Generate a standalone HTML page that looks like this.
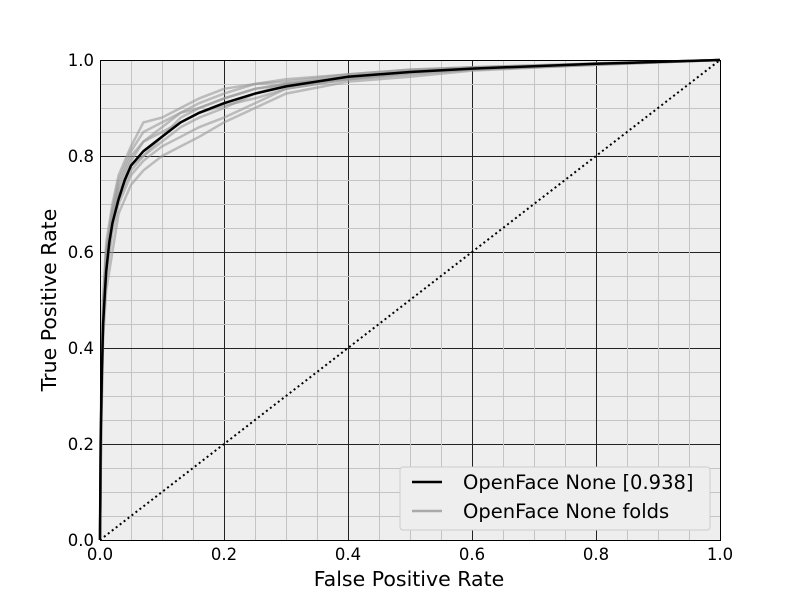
<!DOCTYPE html>
<html><head><meta charset="utf-8"><style>
body{margin:0;background:#fff}
svg{display:block;font-family:"DejaVu Sans","Liberation Sans",sans-serif}
</style></head><body>
<svg id="chart" width="800" height="600"></svg>
<script>
const fprMain=[0,0.001,0.003,0.005,0.008,0.01,0.015,0.02,0.03,0.04,0.05,0.07,0.1,0.13,0.16,0.2,0.25,0.3,0.4,0.5,0.6,0.7,0.8,0.9,1];
const tprMain=[0,0.2,0.35,0.45,0.52,0.56,0.62,0.66,0.71,0.75,0.78,0.81,0.84,0.87,0.89,0.91,0.93,0.945,0.965,0.975,0.982,0.987,0.992,0.996,1];
const foldFpr=[0,0.002,0.005,0.01,0.02,0.03,0.05,0.07,0.1,0.13,0.16,0.2,0.25,0.3,0.4,0.5,0.6,0.8,1];
const foldTprs=[
[0,0.3,0.5,0.62,0.7,0.76,0.82,0.87,0.88,0.9,0.92,0.94,0.95,0.96,0.97,0.98,0.985,0.993,1],
[0,0.25,0.45,0.55,0.64,0.7,0.76,0.79,0.82,0.84,0.86,0.88,0.91,0.94,0.96,0.97,0.98,0.99,1],
[0,0.28,0.48,0.6,0.68,0.73,0.79,0.83,0.86,0.89,0.91,0.93,0.95,0.955,0.97,0.98,0.985,0.992,1],
[0,0.22,0.42,0.52,0.6,0.68,0.74,0.77,0.8,0.82,0.84,0.87,0.9,0.93,0.955,0.965,0.978,0.99,1],
[0,0.3,0.5,0.6,0.66,0.72,0.78,0.8,0.84,0.88,0.9,0.92,0.94,0.95,0.96,0.975,0.98,0.99,1],
[0,0.27,0.46,0.57,0.67,0.74,0.8,0.83,0.85,0.87,0.89,0.905,0.92,0.94,0.96,0.972,0.982,0.991,1],
[0,0.24,0.44,0.56,0.66,0.71,0.77,0.8,0.83,0.86,0.88,0.9,0.93,0.95,0.965,0.977,0.984,0.992,1],
[0,0.26,0.47,0.6,0.69,0.75,0.81,0.85,0.87,0.89,0.9,0.92,0.94,0.95,0.965,0.975,0.982,0.993,1]
];
const ticks=[0,0.2,0.4,0.6,0.8,1.0];
const tickLabels=["0.0","0.2","0.4","0.6","0.8","1.0"];
const L=100,R=720,T=60,B=540;
const X=v=>L+(R-L)*v, Y=v=>B-(B-T)*v;
const svg=document.getElementById('chart');
const NS='http://www.w3.org/2000/svg';
function mk(tag,a,parent){const e=document.createElementNS(NS,tag);for(const k in a)e.setAttribute(k,a[k]);(parent||svg).appendChild(e);return e;}
let e;
e=mk('rect',{x:L,y:T,width:R-L,height:B-T,fill:'#eeeeee'});


for(let i=1;i<20;i++){const v=i*0.05;const major=i%4==0;
 const xp=Math.round(X(v))+0.5, yp=Math.round(Y(v))+0.5;
 e=mk('line',{x1:xp,x2:xp,y1:T,y2:B,stroke:major?'#222':'#c4c4c4','stroke-width':1});
 
 
 e=mk('line',{x1:L,x2:R,y1:yp,y2:yp,stroke:major?'#222':'#c4c4c4','stroke-width':1});
 
 
}
e=mk('line',{x1:X(0),y1:Y(0),x2:X(1),y2:Y(1),stroke:'#000','stroke-width':2,'stroke-dasharray':'2,3'});


const pts=(xs,ys)=>xs.map((v,i)=>X(v).toFixed(1)+','+Y(ys[i]).toFixed(1)).join(' ');
foldTprs.forEach((f,i)=>{
 e=mk('polyline',{points:pts(foldFpr,f),fill:'none',stroke:'#999','stroke-opacity':0.6,'stroke-width':2.5});
 
 
});
e=mk('polyline',{points:pts(fprMain,tprMain),fill:'none',stroke:'#000','stroke-width':2.5});


e=mk('rect',{x:L+0.5,y:T+0.5,width:R-L,height:B-T,fill:'none',stroke:'#000','stroke-width':1});


ticks.forEach((v,i)=>{
 e=mk('text',{x:X(v),y:B+20,'text-anchor':'middle','font-size':16.5});e.textContent=tickLabels[i];
 
 
 e=mk('text',{x:L-6,y:Y(v)+6,'text-anchor':'end','font-size':16.5});e.textContent=tickLabels[i];
 
 
});
e=mk('text',{x:409,y:586,'text-anchor':'middle','font-size':20.5});e.textContent='False Positive Rate';


e=mk('text',{x:56,y:300,'text-anchor':'middle','font-size':20.5,transform:'rotate(-90 56 300)'});e.textContent='True Positive Rate';


const lg=mk('g',{});


mk('rect',{x:400,y:467,width:310,height:63,rx:3,fill:'#eeeeee',stroke:'#ccc'},lg);
mk('line',{x1:412,x2:442,y1:482,y2:482,stroke:'#000','stroke-width':2.5},lg);
mk('line',{x1:412,x2:442,y1:511,y2:511,stroke:'#aaa','stroke-width':2.5},lg);
e=mk('text',{x:463,y:489,'font-size':19.5},lg);e.textContent='OpenFace None [0.938]';


e=mk('text',{x:463,y:518,'font-size':19.5},lg);e.textContent='OpenFace None folds';


</script>
</body></html>
